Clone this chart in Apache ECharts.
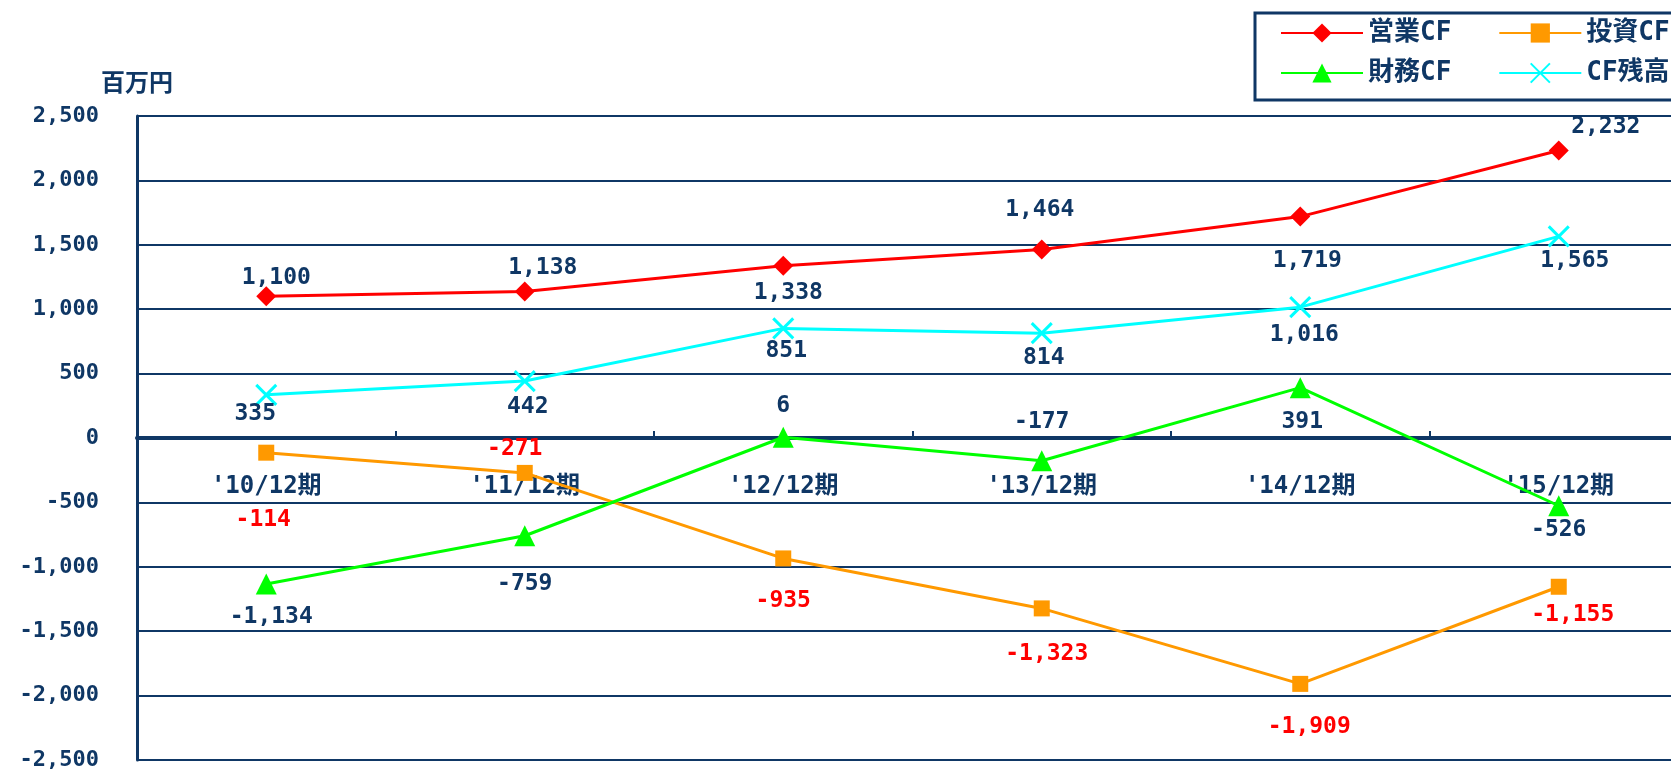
<!DOCTYPE html>
<html><head><meta charset="utf-8">
<script src="https://cdn.jsdelivr.net/npm/echarts@6/dist/echarts.min.js"></script>
<style>html,body{margin:0;padding:0;background:#fff}#c{width:1671px;height:772px}</style>
</head><body><div id="c"></div>
<script>
const categories = ["'10/12期", "'11/12期", "'12/12期", "'13/12期", "'14/12期", "'15/12期"];
const seriesNames = ['営業CF', '投資CF', '財務CF', 'CF残高'];
const operatingCF = [1100, 1138, 1338, 1464, 1719, 2232];
const investingCF = [-114, -271, -935, -1323, -1909, -1155];
const financingCF = [-1134, -759, 6, -177, 391, -526];
const cashBalance = [335, 442, 851, 814, 1016, 1565];
const yMin = -2500, yMax = 2500, yStep = 500;
const unitLabel = '百万円';

// label placement (px offsets from each point), style only
const opOff  = [[10,-18],[18,-23],[5,27],[-2,-39],[7,44],[47,-23]];
const invOff = [[-3,67],[-10,-24],[0,43],[5,46],[9,43],[14,28]];
const finOff = [[5,33],[0,48],[0,-31],[0,-39],[2,34],[0,24]];
const balOff = [[-11,19],[3,26],[3,23],[2,25],[4,28],[16,25]];

const NAVY = '#0F3765';
const FONT = "'DejaVu Sans Mono','Noto Sans CJK JP',monospace";
const GRID_TOP = 116, GRID_BOTTOM = 12, CH = 772;
function fmt(v){ const s = Math.abs(v).toString().replace(/\B(?=(\d{3})+(?!\d))/g, ','); return (v<0?'-':'') + s; }

function mk(name, vals, offs, color, symbol, size, labelColor, extraItem){
  return {
    name, type:'line', data: vals.map((v,i)=>({value:v, label:{offset:offs[i]}})),
    symbol, symbolSize:size, showAllSymbol:true,
    lineStyle:{color, width:3},
    itemStyle:Object.assign({color, borderWidth:0}, extraItem||{}),
    label:{show:true, position:'inside', formatter:p=>fmt(p.value), color:labelColor,
      fontFamily:FONT, fontWeight:'bold', fontSize:23},
    emphasis:{disabled:true}
  };
}

// position of zero line inside the grid (for the category label row)
const plotH = CH - GRID_TOP - GRID_BOTTOM;
const zeroFromBottom = plotH * (0 - yMin) / (yMax - yMin);

const chart = echarts.init(document.getElementById('c'), null, {renderer:'canvas'});
const legendCommon = {
  orient:'horizontal', itemWidth:82, itemHeight:24, itemGap:47, padding:0,
  textStyle:{color:NAVY, fontFamily:FONT, fontWeight:'bold', fontSize:26},
  selectedMode:false
};
chart.setOption({
  animation:false,
  backgroundColor:'#fff',
  grid:{left:137, right:-17, top:GRID_TOP, bottom:GRID_BOTTOM, containLabel:false, outerBoundsMode:'none'},
  legend:[
    Object.assign({data:[seriesNames[0], seriesNames[1]], left:1280, top:20}, legendCommon),
    Object.assign({data:[seriesNames[2], seriesNames[3]], left:1280, top:60}, legendCommon)
  ],
  graphic:[{type:'rect', shape:{x:1255, y:13, width:520, height:87},
    style:{fill:'none', stroke:NAVY, lineWidth:3}, z:10}],
  xAxis:[{type:'category', data:categories, boundaryGap:true,
    axisLine:{onZero:true, lineStyle:{color:NAVY, width:4}},
    axisTick:{show:true, inside:true, length:7, lineStyle:{color:NAVY, width:2}},
    axisLabel:{show:false},
    splitLine:{show:false}},
   {type:'category', data:categories, boundaryGap:true, position:'bottom',
    offset:-zeroFromBottom,
    axisLine:{show:false, onZero:false}, axisTick:{show:false}, splitLine:{show:false},
    axisLabel:{color:NAVY, fontFamily:FONT, fontWeight:'bold', fontSize:24, margin:37}}],
  yAxis:{type:'value', min:yMin, max:yMax, interval:yStep,
    name:unitLabel, nameLocation:'end', nameGap:19,
    nameTextStyle:{color:NAVY, fontFamily:FONT, fontWeight:'bold', fontSize:24, align:'center'},
    axisLine:{show:true, lineStyle:{color:NAVY, width:3}},
    axisTick:{show:false},
    axisLabel:{color:NAVY, fontFamily:FONT, fontWeight:'bold', fontSize:22, margin:38, formatter:v=>fmt(v)},
    splitLine:{show:true, lineStyle:{color:NAVY, width:2}}},
  series:[
    mk(seriesNames[0], operatingCF, opOff, '#FF0000', 'diamond', 20, NAVY),
    mk(seriesNames[1], investingCF, invOff, '#FF9900', 'rect', 16, '#FF0000'),
    mk(seriesNames[2], financingCF, finOff, '#00FF00', 'triangle', 21, NAVY),
    mk(seriesNames[3], cashBalance, balOff, '#00FFFF', 'path://M0,0L10,10M10,0L0,10', 20, NAVY,
       {borderColor:'#00FFFF', borderWidth:3})
  ]
});
</script></body></html>
